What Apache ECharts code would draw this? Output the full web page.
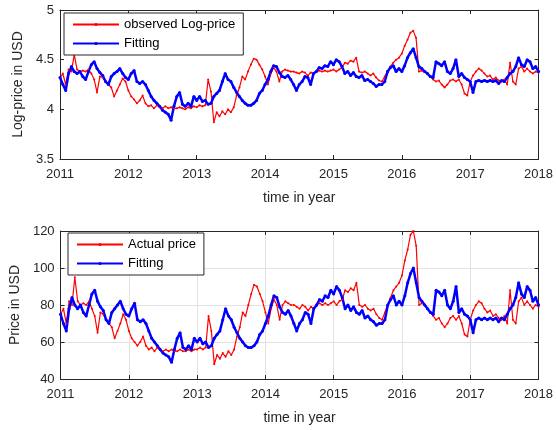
<!DOCTYPE html>
<html><head><meta charset="utf-8">
<script src="https://cdn.jsdelivr.net/npm/echarts@6/dist/echarts.min.js"></script>
<style>html,body{margin:0;padding:0;background:#fff}#c{width:556px;height:430px}</style>
</head><body><div id="c"></div>
<script>
// sampling: half-month steps from 2011.0 to 2018.0
const startYear = 2011;
const stepsPerYear = 24;
const yearTicks = [2011, 2012, 2013, 2014, 2015, 2016, 2017, 2018];

const logObserved = [
 4.32,4.36,4.25,4.40,4.38,4.55,4.40,4.38,4.39,4.38,4.40,4.36,4.30,4.17,4.33,4.32,4.28,4.25,4.22,4.13,4.19,4.25,4.31,4.28,
 4.19,4.13,4.10,4.06,4.09,4.14,4.06,4.03,4.04,4.01,4.04,4.02,4.01,4.03,4.01,4.02,4.01,4.01,4.02,4.01,4.00,4.02,4.01,4.03,
 4.02,4.04,4.03,4.04,4.30,4.18,3.87,3.97,3.93,3.98,3.95,4.00,3.97,4.02,4.14,4.22,4.33,4.30,4.38,4.45,4.51,4.50,4.45,4.40,
 4.33,4.25,4.36,4.42,4.38,4.28,4.38,4.40,4.39,4.38,4.38,4.37,4.36,4.38,4.37,4.34,4.37,4.36,4.38,4.39,4.38,4.39,4.38,4.39,
 4.40,4.38,4.40,4.42,4.47,4.46,4.49,4.48,4.52,4.38,4.37,4.38,4.36,4.34,4.36,4.32,4.29,4.28,4.33,4.38,4.43,4.47,4.50,4.52,
 4.56,4.64,4.70,4.77,4.79,4.72,4.38,4.39,4.38,4.36,4.33,4.30,4.28,4.29,4.25,4.22,4.25,4.29,4.30,4.28,4.30,4.25,4.16,4.14,
 4.28,4.34,4.38,4.41,4.39,4.36,4.33,4.34,4.30,4.32,4.29,4.28,4.30,4.25,4.47,4.28,4.25,4.41,4.43,4.38,4.41,4.38,4.36,4.38,
 4.37];
const logFitting = [
 4.32,4.25,4.19,4.36,4.43,4.38,4.36,4.38,4.33,4.30,4.38,4.45,4.48,4.41,4.37,4.34,4.28,4.25,4.33,4.36,4.38,4.41,4.36,4.32,
 4.30,4.36,4.39,4.28,4.26,4.28,4.25,4.19,4.13,4.09,4.06,4.03,3.99,3.97,3.95,3.89,4.03,4.13,4.17,4.05,4.03,4.06,4.03,4.13,
 4.09,4.13,4.08,4.09,4.05,4.06,4.13,4.16,4.19,4.28,4.36,4.30,4.28,4.22,4.17,4.13,4.09,4.06,4.04,4.04,4.06,4.09,4.16,4.19,
 4.25,4.30,4.38,4.44,4.43,4.37,4.33,4.32,4.34,4.30,4.25,4.19,4.25,4.28,4.33,4.32,4.25,4.36,4.38,4.42,4.41,4.44,4.43,4.48,
 4.45,4.50,4.48,4.43,4.36,4.38,4.34,4.37,4.33,4.32,4.34,4.29,4.30,4.28,4.26,4.23,4.25,4.25,4.28,4.38,4.42,4.44,4.38,4.41,
 4.38,4.44,4.52,4.57,4.61,4.52,4.43,4.41,4.38,4.36,4.33,4.32,4.48,4.46,4.44,4.48,4.38,4.36,4.41,4.50,4.33,4.36,4.32,4.30,
 4.28,4.17,4.28,4.29,4.28,4.29,4.28,4.29,4.28,4.29,4.26,4.29,4.28,4.32,4.36,4.38,4.43,4.52,4.45,4.43,4.50,4.48,4.41,4.43,
 4.38];
const priceActual = [
 75,78,70,82,80,95,82,80,81,80,82,78,74,65,76,75,72,70,68,62,66,70,75,72,
 66,62,60,58,60,63,58,56,57,55,57,56,55,56,55,56,55,55,56,55,55,56,55,56,
 56,57,56,57,74,66,48,53,51,54,52,55,53,56,63,68,76,74,80,86,91,90,86,82,
 76,70,78,83,80,72,80,82,81,80,80,79,78,80,79,77,79,78,80,81,80,81,80,81,
 82,80,82,83,88,87,89,88,92,80,79,80,78,77,78,75,73,72,76,80,84,88,90,92,
 96,104,110,118,120,112,80,81,80,78,76,74,72,73,70,68,70,73,74,72,74,70,64,63,
 72,77,80,82,81,78,76,77,74,75,73,72,74,70,88,72,70,82,84,80,82,80,78,80,
 79];
const priceFitting = [
 75,70,66,78,84,80,78,80,76,74,80,86,88,82,79,77,72,70,76,78,80,82,78,75,
 74,78,81,72,71,72,70,66,62,60,58,56,54,53,52,49,56,62,65,57,56,58,56,62,
 60,62,59,60,57,58,62,64,66,72,78,74,72,68,65,62,60,58,57,57,58,60,64,66,
 70,74,80,85,84,79,76,75,77,74,70,66,70,72,76,75,70,78,80,83,82,85,84,88,
 86,90,88,84,78,80,77,79,76,75,77,73,74,72,71,69,70,70,72,80,83,85,80,82,
 80,85,92,97,100,92,84,82,80,78,76,75,88,87,85,88,80,78,82,90,76,78,75,74,
 72,65,72,73,72,73,72,73,72,73,71,73,72,75,78,80,84,92,86,84,90,88,82,84,
 80];

function pairs(arr){ return arr.map((v,i)=>[startYear + i/stepsPerYear, v]); }

const txt = '#262626';
const font = 'Liberation Sans, Arial, sans-serif';
const axisLine = {show:true, lineStyle:{color:txt, width:1}};

function xAx(gi, showGrid){
  return [{
    type:'value', gridIndex:gi, min:2011, max:2018, interval:1,
    axisLine:axisLine, axisTick:{show:true, inside:true, length:4, lineStyle:{color:txt}},
    axisLabel:{color:txt, fontSize:13, fontFamily:font, margin:9, formatter: v => String(v)},
    splitLine:{show:showGrid, lineStyle:{color:'#e2e2e2'}},
    name:'time in year', nameLocation:'middle', nameGap:32,
    nameTextStyle:{color:txt, fontSize:14, fontFamily:font}
  },{
    type:'value', gridIndex:gi, position:'top', min:2011, max:2018, interval:1,
    axisLine:axisLine, axisTick:{show:true, inside:true, length:4, lineStyle:{color:txt}},
    axisLabel:{show:false}, splitLine:{show:false}
  }];
}
function yAx(gi, min, max, interval, name, gap, showGrid){
  return [{
    type:'value', gridIndex:gi, min:min, max:max, interval:interval,
    axisLine:axisLine, axisTick:{show:true, inside:true, length:4, lineStyle:{color:txt}},
    axisLabel:{color:txt, fontSize:13, fontFamily:font, margin:6},
    splitLine:{show:showGrid, lineStyle:{color:'#e2e2e2'}},
    name:name, nameLocation:'middle', nameGap:gap, nameRotate:90,
    nameTextStyle:{color:txt, fontSize:14, fontFamily:font}
  },{
    type:'value', gridIndex:gi, position:'right', min:min, max:max, interval:interval,
    axisLine:axisLine, axisTick:{show:true, inside:true, length:4, lineStyle:{color:txt}},
    axisLabel:{show:false}, splitLine:{show:false}
  }];
}

const chart = echarts.init(document.getElementById('c'), null, {renderer:'canvas'});
chart.setOption({
  animation:false,
  backgroundColor:'#ffffff',
  grid:[
    {left:60, right:17, top:10, height:149},
    {left:60, right:17, top:231, height:148}
  ],
  xAxis:[...xAx(0,false), ...xAx(1,true)],
  yAxis:[...yAx(0,3.5,5,0.5,'Log-price in USD',33,false), ...yAx(1,40,120,20,'Price in USD',36,true)],
  legend:[
    {left:64, top:13, orient:'vertical', data:['observed Log-price','Fitting'],
     backgroundColor:'#fff', borderColor:txt, borderWidth:1, padding:[5,8,5,8], itemGap:6,
     itemWidth:46, itemHeight:4, textStyle:{color:'#000', fontSize:13, fontFamily:font}},
    {left:68, top:233, orient:'vertical', data:[' Actual price','Fitting '],
     backgroundColor:'#fff', borderColor:txt, borderWidth:1, padding:[5,8,5,8], itemGap:6,
     itemWidth:46, itemHeight:4, textStyle:{color:'#000', fontSize:13, fontFamily:font},
     formatter: n => n.trim()}
  ],
  series:[
    {name:'observed Log-price', type:'line', xAxisIndex:0, yAxisIndex:0, data:pairs(logObserved),
     color:'#ff0000', lineStyle:{width:1.2, color:'#ff0000'}, symbol:'circle', symbolSize:2, showSymbol:true},
    {name:'Fitting', type:'line', xAxisIndex:0, yAxisIndex:0, data:pairs(logFitting),
     color:'#0000ff', lineStyle:{width:2.5, color:'#0000ff'}, symbol:'circle', symbolSize:3, showSymbol:true},
    {name:' Actual price', type:'line', xAxisIndex:2, yAxisIndex:2, data:pairs(priceActual),
     color:'#ff0000', lineStyle:{width:1.2, color:'#ff0000'}, symbol:'circle', symbolSize:2, showSymbol:true},
    {name:'Fitting ', type:'line', xAxisIndex:2, yAxisIndex:2, data:pairs(priceFitting),
     color:'#0000ff', lineStyle:{width:2.5, color:'#0000ff'}, symbol:'circle', symbolSize:3, showSymbol:true}
  ]
});
</script></body></html>
